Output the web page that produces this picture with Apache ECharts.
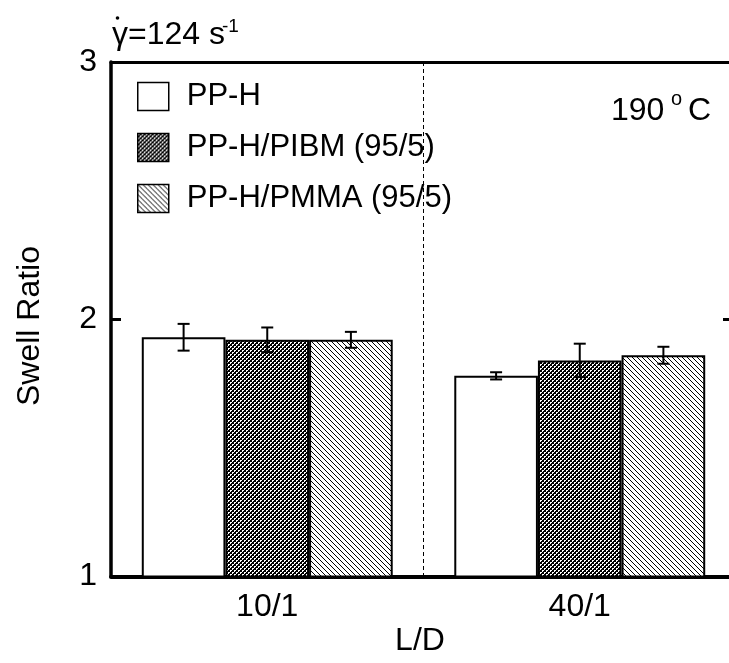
<!DOCTYPE html>
<html><head><meta charset="utf-8">
<script src="https://cdn.jsdelivr.net/npm/echarts@6/dist/echarts.min.js"></script>
<style>html,body{margin:0;padding:0;background:#fff}#c{width:729px;height:663px}</style>
</head><body><div id="c"></div>
<script>
// ---- data ----
const categories = ['10/1', '40/1'];
const seriesNames = ['PP-H', 'PP-H/PIBM (95/5)', 'PP-H/PMMA (95/5)'];
const ppH = [1.93, 1.78];
const ppHErr = [0.052, 0.014];
const ppPIBM = [1.92, 1.84];
const ppPIBMErr = [0.048, 0.065];
const ppPMMA = [1.92, 1.86];
const ppPMMAErr = [0.031, 0.033];
const yMin = 1, yMax = 3, yStep = 1;

const FONT = 'Liberation Sans, Arial, Helvetica, sans-serif';
const CAT_GAP = 0.197;

function makePattern(kind) {
  const n = kind === 'cross' ? 4 : 5;
  const c = document.createElement('canvas');
  c.width = n; c.height = n;
  const ctx = c.getContext('2d');
  if (kind === 'cross') {
    ctx.fillStyle = '#000'; ctx.fillRect(0, 0, n, n);
    ctx.fillStyle = '#fff';
    [[0,0],[1,0],[0,1],[2,2],[3,2],[2,3]].forEach(p => ctx.fillRect(p[0], p[1], 1, 1));
  } else {
    ctx.fillStyle = '#fff'; ctx.fillRect(0, 0, n, n);
    ctx.fillStyle = '#000';
    for (let x = 0; x < n; x++) for (let y = 0; y < n; y++) {
      if ((((x - y) % n) + n) % n === 0) ctx.fillRect(x, y, 1, 1);
    }
  }
  return c;
}

const fills = ['#ffffff',
  { image: makePattern('cross'), repeat: 'repeat' },
  { image: makePattern('diag'), repeat: 'repeat' }];
const vals = [ppH, ppPIBM, ppPMMA];
const errs = [ppHErr, ppPIBMErr, ppPMMAErr];

const barSeries = seriesNames.map((name, k) => ({
  type: 'bar', name, data: vals[k],
  barGap: '0%', barCategoryGap: (CAT_GAP * 100) + '%',
  itemStyle: { color: fills[k], borderColor: '#000', borderWidth: 2 },
  z: 2, silent: true
}));

const errData = [];
vals.forEach((arr, k) => arr.forEach((v, i) => errData.push([i, v, errs[k][i], k])));

const errSeries = {
  type: 'custom', name: 'err', data: errData, z: 5, silent: true,
  encode: { x: 0, y: 1 },
  renderItem(params, api) {
    const i = api.value(0), v = api.value(1), e = api.value(2), k = api.value(3);
    const band = api.size([1, 0])[0];
    const bw = band * (1 - CAT_GAP) / 3;
    const cx = api.coord([i, v])[0] + (k - 1) * bw;
    const yt = api.coord([i, v + e])[1], yb = api.coord([i, v - e])[1];
    const cap = 6, st = { stroke: '#000', lineWidth: 2 };
    return { type: 'group', children: [
      { type: 'line', shape: { x1: cx, y1: yt, x2: cx, y2: yb }, style: st },
      { type: 'line', shape: { x1: cx - cap, y1: yt, x2: cx + cap, y2: yt }, style: st },
      { type: 'line', shape: { x1: cx - cap, y1: yb, x2: cx + cap, y2: yb }, style: st }
    ]};
  }
};

const chart = echarts.init(document.getElementById('c'), null, { renderer: 'canvas' });
chart.setOption({
  animation: false,
  backgroundColor: '#fff',
  textStyle: { fontFamily: FONT },
  grid: { left: 111, top: 62, width: 625, height: 514.5, outerBoundsMode: 'none', containLabel: false },
  legend: {
    orient: 'vertical', left: 137, top: 81, padding: 0,
    itemWidth: 31, itemHeight: 28, itemGap: 20, icon: 'rect',
    selectedMode: false, data: seriesNames,
    itemStyle: { borderWidth: 1.5, borderColor: '#000' },
    textStyle: { fontSize: 31, lineHeight: 28, color: '#000', fontFamily: FONT, padding: [0, 0, 0, 13] }
  },
  xAxis: [
    { type: 'category', data: categories, position: 'bottom', boundaryGap: true,
      axisLine: { lineStyle: { color: '#000', width: 4 } },
      axisTick: { show: false },
      axisLabel: { fontSize: 32, color: '#000', margin: 15, fontFamily: FONT },
      splitLine: { show: true, lineStyle: { color: '#000', width: 1, type: [4, 3] } } },
    { type: 'category', data: categories, position: 'top',
      axisLine: { lineStyle: { color: '#000', width: 3 } },
      axisTick: { show: false }, axisLabel: { show: false }, splitLine: { show: false } }
  ],
  yAxis: [
    { type: 'value', min: yMin, max: yMax, interval: yStep, position: 'left',
      axisLine: { show: true, lineStyle: { color: '#000', width: 3.5 } },
      axisTick: { show: true, inside: true, length: 10, lineStyle: { color: '#000', width: 3 } },
      axisLabel: { fontSize: 32, color: '#000', margin: 14, fontFamily: FONT },
      splitLine: { show: false } },
    { type: 'value', min: yMin, max: yMax, interval: yStep, position: 'right',
      axisLine: { show: true, lineStyle: { color: '#000', width: 3 } },
      axisTick: { show: true, inside: true, length: 13, lineStyle: { color: '#000', width: 3 } },
      axisLabel: { show: false }, splitLine: { show: false } }
  ],
  series: [...barSeries, errSeries],
  graphic: [
    { type: 'text', x: 30, y: 326, rotation: Math.PI / 2,
      style: { text: 'Swell Ratio', font: '32px ' + FONT, fill: '#000', align: 'center', verticalAlign: 'middle' } },
    { type: 'text', x: 420, y: 641,
      style: { text: 'L/D', font: '32px ' + FONT, fill: '#000', align: 'center', verticalAlign: 'middle' } },
    { type: 'text', x: 112, y: 35,
      style: { text: 'γ=124 s', font: '32px ' + FONT, fill: '#000', align: 'left', verticalAlign: 'middle' } },
    { type: 'circle', shape: { cx: 117.5, cy: 18, r: 1.8 }, style: { fill: '#000' } },
    { type: 'text', x: 222, y: 27,
      style: { text: '-1', font: '19px ' + FONT, fill: '#000', align: 'left', verticalAlign: 'middle' } },
    { type: 'text', x: 611, y: 111,
      style: { text: '190', font: '32px ' + FONT, fill: '#000', align: 'left', verticalAlign: 'middle' } },
    { type: 'text', x: 671, y: 99,
      style: { text: 'o', font: '20px ' + FONT, fill: '#000', align: 'left', verticalAlign: 'middle' } },
    { type: 'text', x: 688, y: 111,
      style: { text: 'C', font: '32px ' + FONT, fill: '#000', align: 'left', verticalAlign: 'middle' } }
  ]
});
</script>
</body></html>
